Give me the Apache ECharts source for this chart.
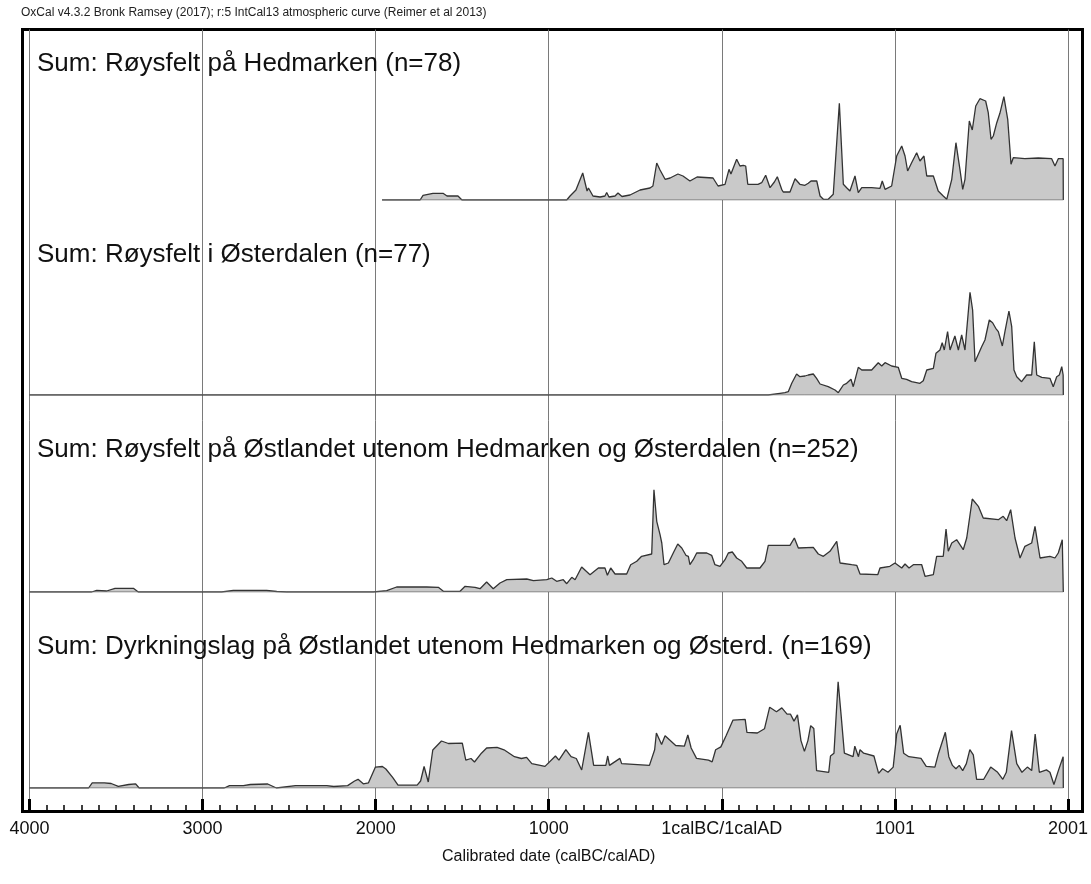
<!doctype html>
<html lang="no">
<head>
<meta charset="utf-8">
<title>OxCal sum plots</title>
<script src="https://cdn.jsdelivr.net/npm/echarts@6/dist/echarts.min.js"></script>
<style>
  html, body { margin: 0; padding: 0; background: #fff; }
  #chart { width: 1091px; height: 884px; }
</style>
</head>
<body>
<div id="chart"></div>
<script>
// years: negative = calBC, positive = calAD ; value = relative probability (arbitrary units)
var panelTitles = [
  'Sum: Røysfelt på Hedmarken (n=78)',
  'Sum: Røysfelt i Østerdalen (n=77)',
  'Sum: Røysfelt på Østlandet utenom Hedmarken og Østerdalen (n=252)',
  'Sum: Dyrkningslag på Østlandet utenom Hedmarken og Østerd. (n=169)'
];

var tickYears = [-4000, -3000, -2000, -1000, 0, 1000, 2000];
var tickText = ['4000', '3000', '2000', '1000', '1calBC/1calAD', '1001', '2001'];

var hedmarken = [
  [-1971,0],[-1752,0],[-1735,4.7],[-1678,6.7],[-1620,6.7],[-1597,4],[-1534,4],[-1511,0],
  [-908,0],[-889,4],[-855,10],[-816,27],[-791,9],[-783,12],[-757,4],[-716,3],[-688,4],
  [-678,7.5],[-665,3],[-630,4],[-613,7],[-590,3.5],[-544,5],[-486,10],[-429,12],[-412,14],
  [-390,37],[-371,30],[-342,20.7],[-313,22],[-268,26],[-239,24],[-199,19],[-158,23],
  [-66,22],[-37,14],[3,15.7],[26,30.7],[37,26],[70,40.7],[89,34],[108,34.7],[122,34],
  [134,15.7],[193,15.7],[214,17.3],[237,24.7],[262,12.3],[287,18],[304,23.3],[329,10.7],
  [338,8],[377,8],[406,21.3],[434,15.7],[463,14.7],[482,16.7],[498,19],[531,19],[550,4],
  [569,0.7],[597,0.7],[626,5.7],[661,96.7],[684,15.7],[703,12.3],[722,9],[751,24],[770,7.3],
  [790,12.3],[847,12.3],[895,11.7],[908,19],[924,10.7],[962,14],[991,44],[1020,54],
  [1039,44],[1054,29],[1077,37.3],[1106,47.3],[1125,39],[1148,44],[1164,24],[1202,24],
  [1230,9],[1259,4],[1279,0.7],[1308,20.7],[1332,57.3],[1355,30.7],[1371,10.7],[1384,20.7],
  [1409,79],[1426,70],[1446,94],[1470,101.3],[1503,99],[1518,87.3],[1534,60.7],[1547,64],
  [1567,77.3],[1585,86.7],[1608,103.3],[1630,80.7],[1649,35.7],[1662,42.3],[1729,41.3],
  [1806,42],[1883,41.3],[1902,34],[1921,41.3],[1949,41.3],[1950,0]
];

var osterdalen = [
  [-4000,0],[252,0],[319,1.7],[348,2.3],[367,3.3],[387,11.7],[415,21],[434,18.3],[463,19],
  [482,20],[511,21],[530,16.7],[550,11],[597,8.3],[636,5],[655,2.3],[684,10],[703,11.7],
  [728,15.7],[741,8.3],[770,27.7],[790,25],[847,25],[885,32.3],[905,29],[924,32.3],
  [962,29],[1000,27.7],[1020,16.7],[1048,15.7],[1077,13.3],[1125,11.7],[1144,14.3],
  [1164,25],[1202,26.7],[1217,41.7],[1240,45],[1253,52.3],[1265,45],[1284,63.3],[1298,45],
  [1326,59],[1346,45],[1365,60],[1384,45],[1413,102.7],[1428,85],[1442,33.3],[1480,48.3],
  [1499,55],[1524,75],[1543,72.3],[1561,66.7],[1576,63.3],[1599,49],[1614,63.3],[1637,84],
  [1653,68.3],[1666,25],[1682,18.3],[1710,13.3],[1739,20],[1768,20],[1783,53.3],[1797,20],
  [1826,17.7],[1873,16.7],[1892,8.3],[1912,18.3],[1927,20],[1941,28.3],[1949,20],[1950,0]
];

var ostlandet = [
  [-4000,0],[-3642,0],[-3613,1.7],[-3556,1],[-3508,3.7],[-3402,3.7],[-3374,0],[-2894,0],
  [-2827,1.7],[-2635,1.7],[-2577,0.5],[-2520,0],[-2021,0],[-1944,1.3],[-1887,5],[-1714,5],
  [-1647,4.7],[-1618,0.7],[-1522,0.7],[-1493,5.7],[-1436,4.7],[-1407,3.3],[-1369,10],
  [-1331,3.3],[-1292,9],[-1253,12.3],[-1138,13],[-1100,11.3],[-1023,12.3],[-994,14],
  [-966,10.7],[-928,12.3],[-908,8.3],[-879,14.7],[-860,12.3],[-822,25],[-774,17.3],
  [-726,24],[-688,24],[-674,16.7],[-655,24],[-630,18],[-563,18],[-540,27.3],[-505,30.7],
  [-477,35.7],[-419,38],[-406,102.3],[-390,70.7],[-371,57.3],[-361,49],[-348,27.3],
  [-323,29],[-295,39],[-269,48],[-246,44],[-222,36.7],[-208,35.7],[-199,27.3],[-180,32.3],
  [-160,39],[-102,39],[-74,36.7],[-55,27.3],[-26,25.7],[3,32.3],[22,39],[45,40],[70,34],
  [99,30.7],[128,24],[204,24],[233,30.7],[252,46.7],[377,46.7],[402,54],[425,44],[511,44.7],
  [540,38],[569,35.7],[607,40.7],[646,50.7],[665,29],[732,27.3],[761,26.7],[780,18],
  [882,17.3],[895,24],[952,25.7],[981,29],[1020,24],[1039,28],[1062,24],[1087,27.3],
  [1135,27.3],[1154,15.7],[1202,17.3],[1221,35.7],[1259,35.7],[1275,63],[1288,40.7],
  [1308,49],[1336,52.3],[1374,42.3],[1394,54],[1426,93],[1461,85.7],[1489,74],[1576,72.3],
  [1604,75.7],[1624,71.3],[1647,82.3],[1672,54],[1701,34],[1729,45.7],[1768,49],[1787,65.7],
  [1816,34],[1873,35.7],[1902,34],[1921,39],[1944,52.3],[1950,0]
];

var dyrkningslag = [
  [-4000,0],[-3660,0],[-3639,5.2],[-3569,5.2],[-3530,4.5],[-3489,1.7],[-3429,3.5],
  [-3389,4.2],[-3369,0],[-2879,0],[-2849,2.4],[-2769,2.4],[-2729,3.5],[-2629,4],[-2579,0],
  [-2469,2.4],[-2289,2.4],[-2249,1.5],[-2169,2.4],[-2129,7],[-2109,8.7],[-2079,4.2],
  [-2049,5.2],[-2009,20.9],[-1969,21.5],[-1949,19],[-1909,10.4],[-1879,2.8],[-1769,2.8],
  [-1749,7],[-1729,21.5],[-1705,6],[-1679,38],[-1629,47],[-1589,44.5],[-1509,44.8],
  [-1489,27.8],[-1459,29.5],[-1439,26],[-1399,34.8],[-1369,40],[-1309,40.7],[-1269,38.2],
  [-1209,31.3],[-1169,29.5],[-1139,30.6],[-1109,24.3],[-1033,21.6],[-973,32],[-953,27.9],
  [-913,38.3],[-883,31.3],[-853,29.5],[-822,18],[-783,55.7],[-753,22.6],[-683,22.6],
  [-672,32],[-662,22.6],[-602,29.6],[-592,24.4],[-432,22.6],[-402,38.3],[-392,55],
  [-362,43.5],[-342,52.2],[-281,42.5],[-231,41.8],[-211,53],[-192,40],[-161,29.6],
  [-92,27.9],[-71,26.1],[-51,38.3],[-21,41.1],[9,52.2],[49,67.9],[119,68.6],[129,55.7],
  [189,55],[230,59.2],[260,80.8],[299,76.3],[330,80.1],[360,73.8],[380,73.8],[400,66.9],
  [420,73.1],[440,47.4],[460,36.6],[480,47.4],[496,62.3],[514,59.5],[530,17.4],[600,15.7],
  [610,32],[630,34.8],[654,106.2],[671,73.1],[690,34.8],[740,31.3],[750,41.8],[771,31.3],
  [780,38.3],[801,34.8],[860,32],[887,14.6],[910,19.2],[941,15.7],[971,20.9],[991,54],
  [1011,62.7],[1031,34.8],[1061,31.3],[1131,29.6],[1161,21.6],[1211,20.9],[1232,34.8],
  [1271,55.7],[1291,31.3],[1312,22.6],[1332,19.2],[1351,22.6],[1371,17.4],[1392,24.4],
  [1412,38.3],[1432,33.1],[1451,8.7],[1492,8.7],[1532,20.9],[1572,15.7],[1602,8.7],
  [1622,15.7],[1652,57.4],[1682,24.4],[1712,15.7],[1743,20.9],[1768,17.4],[1788,54],
  [1812,15.7],[1853,18.1],[1873,15.7],[1896,3.5],[1923,18.1],[1949,31.3],[1950,0]
];

var panelData = [hedmarken, osterdalen, ostlandet, dyrkningslag];

var FONT = '"Liberation Sans", Arial, sans-serif';
var plotLeft = 29.5, plotWidth = 1042.5;
var baselines = [200, 395, 592, 788];
var labelTops = [51, 242, 437, 634];
var panelH = 170;

var grids = [], xAxes = [], yAxes = [], series = [], titles = [];

titles.push({
  text: 'OxCal v4.3.2 Bronk Ramsey (2017); r:5 IntCal13 atmospheric curve (Reimer et al 2013)',
  left: 21, top: 7, padding: 0,
  textStyle: { fontFamily: FONT, fontSize: 12, fontWeight: 'normal', color: '#222' }
});

panelData.forEach(function (d, i) {
  grids.push({ left: plotLeft, width: plotWidth, top: baselines[i] - panelH, height: panelH });
  xAxes.push({ gridIndex: i, type: 'value', min: -4000, max: 2000, show: false });
  yAxes.push({ gridIndex: i, type: 'value', min: 0, max: panelH, show: false });
  series.push({
    type: 'line', xAxisIndex: i, yAxisIndex: i, data: d,
    showSymbol: false, silent: true, z: 3,
    lineStyle: { color: '#333', width: 1.3 },
    areaStyle: { color: '#c9c9c9', opacity: 1 }
  });
  series.push({
    type: 'line', xAxisIndex: i, yAxisIndex: i, silent: true, z: 4,
    data: [[d[0][0], 0], [d[d.length - 1][0], 0]],
    showSymbol: false,
    lineStyle: { color: '#707070', width: 1 }
  });
  titles.push({
    text: panelTitles[i], left: 37, top: labelTops[i], padding: 0,
    textStyle: { fontFamily: FONT, fontSize: 26, fontWeight: 'normal', color: '#111' }
  });
});

// shared date axis with the gridlines and ticks
grids.push({ left: plotLeft, width: plotWidth, top: 29.5, height: 781.5 });
xAxes.push({
  gridIndex: 4, type: 'value', min: -4000, max: 2000, interval: 1000,
  axisLine: { show: false },
  axisTick: { show: true, inside: true, length: 12, lineStyle: { color: '#000', width: 3 } },
  minorTick: { show: true, splitNumber: 10, length: 6, lineStyle: { color: '#000', width: 1.5 } },
  splitLine: { show: true, lineStyle: { color: '#7a7a7a', width: 1 } },
  axisLabel: {
    margin: 9, fontFamily: FONT, fontSize: 18, color: '#111',
    formatter: function (v) { return tickText[tickYears.indexOf(v)]; }
  },
  name: 'Calibrated date (calBC/calAD)', nameLocation: 'middle', nameGap: 38,
  nameTextStyle: { fontFamily: FONT, fontSize: 16, color: '#111' }
});
yAxes.push({ gridIndex: 4, type: 'value', min: 0, max: 1, show: false });

// outer heavy frame
grids.push({ left: 22.5, top: 29.5, width: 1060, height: 782, show: true,
  borderColor: '#000', borderWidth: 3, backgroundColor: 'transparent' });
xAxes.push({ gridIndex: 5, type: 'value', show: false });
yAxes.push({ gridIndex: 5, type: 'value', show: false });

var chart = echarts.init(document.getElementById('chart'));
chart.setOption({
  animation: false,
  backgroundColor: '#fff',
  title: titles,
  grid: grids,
  xAxis: xAxes,
  yAxis: yAxes,
  series: series
});
</script>
</body>
</html>
